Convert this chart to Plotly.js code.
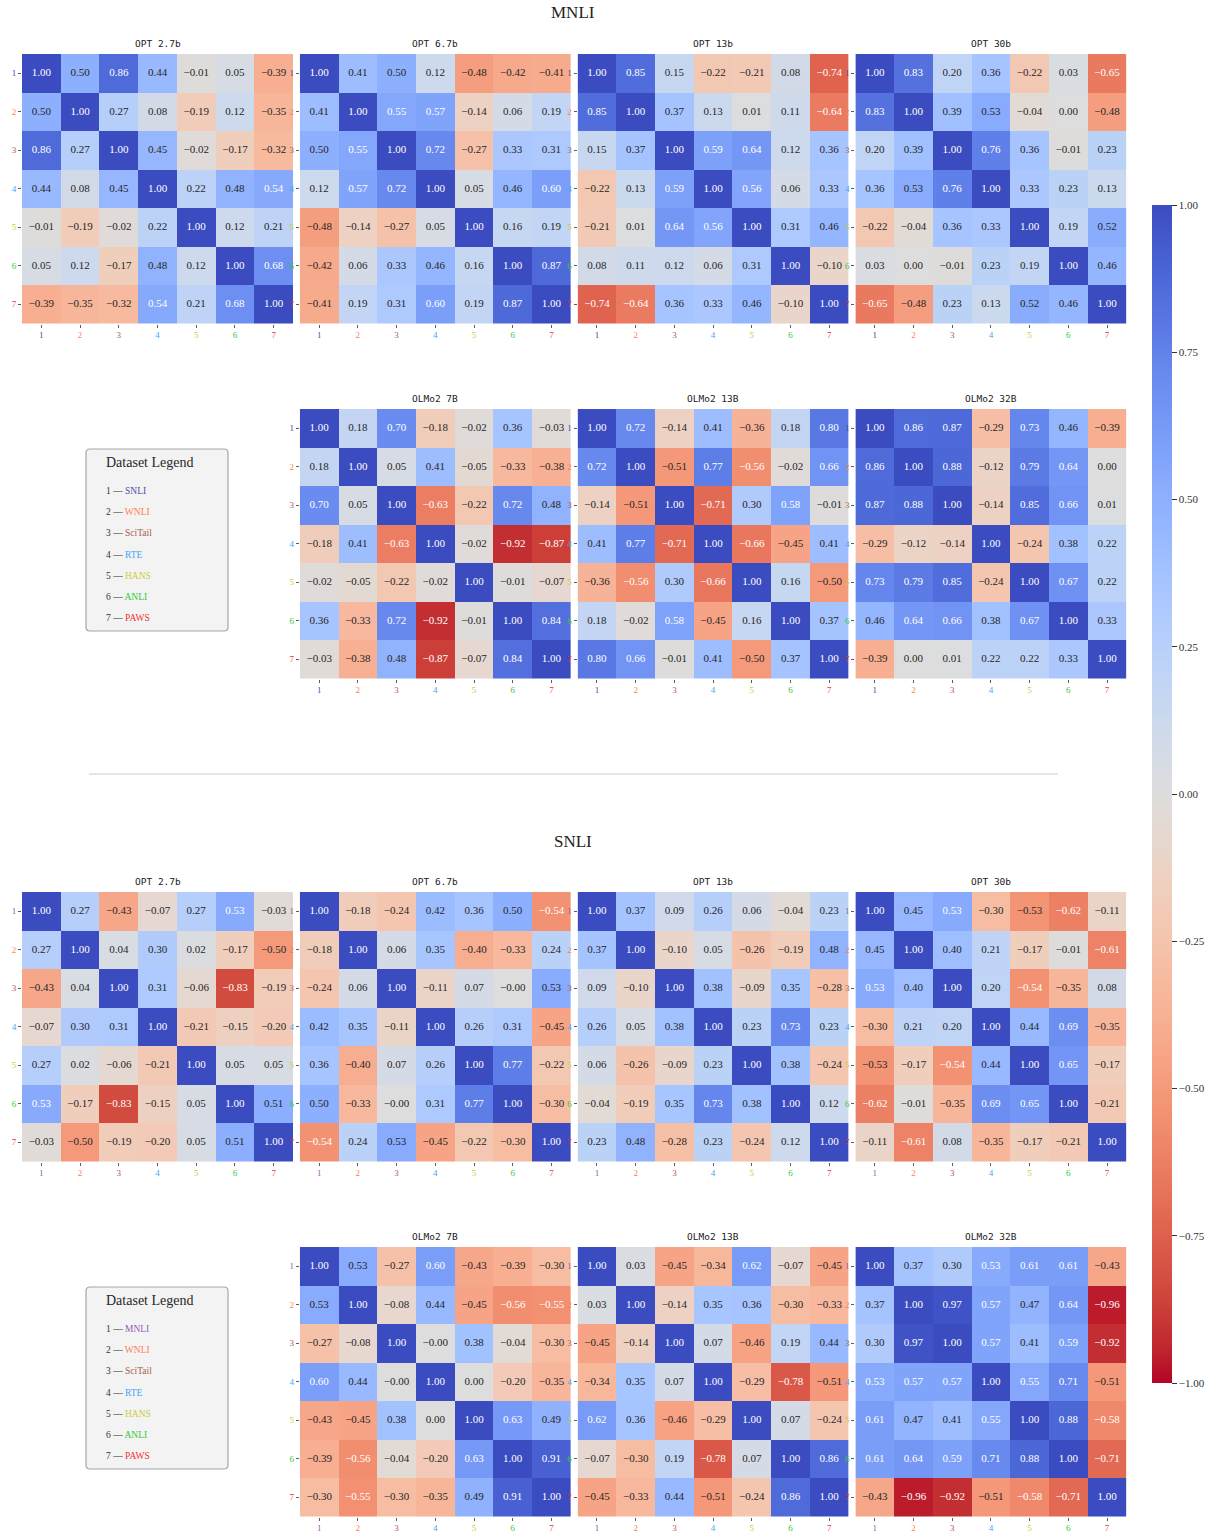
<!DOCTYPE html>
<html><head><meta charset="utf-8">
<script src="https://cdn.plot.ly/plotly-3.0.1.min.js"></script>
<style>body{margin:0;background:#fff}#chart{width:1217px;height:1533px}</style>
</head><body><div id="chart"></div>
<script>
// ---------------- DATA ----------------
const groupTitles = ['MNLI', 'SNLI'];
const panelTitles = ['OPT 2.7b', 'OPT 6.7b', 'OPT 13b', 'OPT 30b', 'OLMo2 7B', 'OLMo2 13B', 'OLMo2 32B'];
const tickLabels = ['1', '2', '3', '4', '5', '6', '7'];
const mnliDatasets = ['SNLI', 'WNLI', 'SciTail', 'RTE', 'HANS', 'ANLI', 'PAWS'];
const snliDatasets = ['MNLI', 'WNLI', 'SciTail', 'RTE', 'HANS', 'ANLI', 'PAWS'];
const mnliDatasetColors = ['#4b4bab', '#ff7f50', '#a8604f', '#3fa7f5', '#cccc33', '#33cc33', '#ee3333'];
const snliDatasetColors = ['#9b59b6', '#ff7f50', '#a8604f', '#3fa7f5', '#cccc33', '#33cc33', '#ee3333'];
const colorbarTicks = [-1, -0.75, -0.5, -0.25, 0, 0.25, 0.5, 0.75, 1];

const mnliOpt27b = [
  [1.00, 0.50, 0.86, 0.44, -0.01, 0.05, -0.39],
  [0.50, 1.00, 0.27, 0.08, -0.19, 0.12, -0.35],
  [0.86, 0.27, 1.00, 0.45, -0.02, -0.17, -0.32],
  [0.44, 0.08, 0.45, 1.00, 0.22, 0.48, 0.54],
  [-0.01, -0.19, -0.02, 0.22, 1.00, 0.12, 0.21],
  [0.05, 0.12, -0.17, 0.48, 0.12, 1.00, 0.68],
  [-0.39, -0.35, -0.32, 0.54, 0.21, 0.68, 1.00]];
const mnliOpt67b = [
  [1.00, 0.41, 0.50, 0.12, -0.48, -0.42, -0.41],
  [0.41, 1.00, 0.55, 0.57, -0.14, 0.06, 0.19],
  [0.50, 0.55, 1.00, 0.72, -0.27, 0.33, 0.31],
  [0.12, 0.57, 0.72, 1.00, 0.05, 0.46, 0.60],
  [-0.48, -0.14, -0.27, 0.05, 1.00, 0.16, 0.19],
  [-0.42, 0.06, 0.33, 0.46, 0.16, 1.00, 0.87],
  [-0.41, 0.19, 0.31, 0.60, 0.19, 0.87, 1.00]];
const mnliOpt13b = [
  [1.00, 0.85, 0.15, -0.22, -0.21, 0.08, -0.74],
  [0.85, 1.00, 0.37, 0.13, 0.01, 0.11, -0.64],
  [0.15, 0.37, 1.00, 0.59, 0.64, 0.12, 0.36],
  [-0.22, 0.13, 0.59, 1.00, 0.56, 0.06, 0.33],
  [-0.21, 0.01, 0.64, 0.56, 1.00, 0.31, 0.46],
  [0.08, 0.11, 0.12, 0.06, 0.31, 1.00, -0.10],
  [-0.74, -0.64, 0.36, 0.33, 0.46, -0.10, 1.00]];
const mnliOpt30b = [
  [1.00, 0.83, 0.20, 0.36, -0.22, 0.03, -0.65],
  [0.83, 1.00, 0.39, 0.527, -0.04, 0.00, -0.48],
  [0.20, 0.39, 1.00, 0.76, 0.36, -0.01, 0.23],
  [0.36, 0.527, 0.76, 1.00, 0.33, 0.23, 0.13],
  [-0.22, -0.04, 0.36, 0.33, 1.00, 0.19, 0.52],
  [0.03, 0.00, -0.01, 0.23, 0.19, 1.00, 0.46],
  [-0.65, -0.48, 0.23, 0.13, 0.52, 0.46, 1.00]];
const mnliOlmo7b = [
  [1.00, 0.18, 0.70, -0.18, -0.02, 0.36, -0.03],
  [0.18, 1.00, 0.05, 0.41, -0.05, -0.33, -0.38],
  [0.70, 0.05, 1.00, -0.63, -0.22, 0.72, 0.48],
  [-0.18, 0.41, -0.63, 1.00, -0.02, -0.92, -0.87],
  [-0.02, -0.05, -0.22, -0.02, 1.00, -0.01, -0.07],
  [0.36, -0.33, 0.72, -0.92, -0.01, 1.00, 0.84],
  [-0.03, -0.38, 0.48, -0.87, -0.07, 0.84, 1.00]];
const mnliOlmo13b = [
  [1.00, 0.72, -0.14, 0.41, -0.36, 0.18, 0.80],
  [0.72, 1.00, -0.51, 0.77, -0.56, -0.02, 0.66],
  [-0.14, -0.51, 1.00, -0.71, 0.30, 0.58, -0.01],
  [0.41, 0.77, -0.71, 1.00, -0.66, -0.45, 0.41],
  [-0.36, -0.56, 0.30, -0.66, 1.00, 0.16, -0.50],
  [0.18, -0.02, 0.58, -0.45, 0.16, 1.00, 0.37],
  [0.80, 0.66, -0.01, 0.41, -0.50, 0.37, 1.00]];
const mnliOlmo32b = [
  [1.00, 0.86, 0.87, -0.29, 0.73, 0.46, -0.39],
  [0.86, 1.00, 0.88, -0.12, 0.79, 0.64, 0.00],
  [0.87, 0.88, 1.00, -0.14, 0.85, 0.66, 0.01],
  [-0.29, -0.12, -0.14, 1.00, -0.24, 0.38, 0.22],
  [0.73, 0.79, 0.85, -0.24, 1.00, 0.67, 0.22],
  [0.46, 0.64, 0.66, 0.38, 0.67, 1.00, 0.33],
  [-0.39, 0.00, 0.01, 0.22, 0.22, 0.33, 1.00]];

const snliOpt27b = [
  [1.00, 0.27, -0.43, -0.07, 0.27, 0.533, -0.03],
  [0.27, 1.00, 0.04, 0.30, 0.02, -0.17, -0.50],
  [-0.43, 0.04, 1.00, 0.31, -0.06, -0.83, -0.19],
  [-0.07, 0.30, 0.31, 1.00, -0.21, -0.15, -0.20],
  [0.27, 0.02, -0.06, -0.21, 1.00, 0.05, 0.05],
  [0.533, -0.17, -0.83, -0.15, 0.05, 1.00, 0.51],
  [-0.03, -0.50, -0.19, -0.20, 0.05, 0.51, 1.00]];
const snliOpt67b = [
  [1.00, -0.18, -0.24, 0.42, 0.36, 0.50, -0.54],
  [-0.18, 1.00, 0.06, 0.35, -0.40, -0.33, 0.24],
  [-0.24, 0.06, 1.00, -0.11, 0.07, -0.001, 0.527],
  [0.42, 0.35, -0.11, 1.00, 0.26, 0.31, -0.45],
  [0.36, -0.40, 0.07, 0.26, 1.00, 0.77, -0.22],
  [0.50, -0.33, -0.001, 0.31, 0.77, 1.00, -0.30],
  [-0.54, 0.24, 0.527, -0.45, -0.22, -0.30, 1.00]];
const snliOpt13b = [
  [1.00, 0.37, 0.09, 0.26, 0.06, -0.04, 0.23],
  [0.37, 1.00, -0.10, 0.05, -0.26, -0.19, 0.48],
  [0.09, -0.10, 1.00, 0.38, -0.09, 0.35, -0.28],
  [0.26, 0.05, 0.38, 1.00, 0.23, 0.73, 0.23],
  [0.06, -0.26, -0.09, 0.23, 1.00, 0.38, -0.24],
  [-0.04, -0.19, 0.35, 0.73, 0.38, 1.00, 0.12],
  [0.23, 0.48, -0.28, 0.23, -0.24, 0.12, 1.00]];
const snliOpt30b = [
  [1.00, 0.45, 0.533, -0.30, -0.53, -0.62, -0.11],
  [0.45, 1.00, 0.40, 0.21, -0.17, -0.01, -0.61],
  [0.533, 0.40, 1.00, 0.20, -0.54, -0.35, 0.08],
  [-0.30, 0.21, 0.20, 1.00, 0.44, 0.69, -0.35],
  [-0.53, -0.17, -0.54, 0.44, 1.00, 0.65, -0.17],
  [-0.62, -0.01, -0.35, 0.69, 0.65, 1.00, -0.21],
  [-0.11, -0.61, 0.08, -0.35, -0.17, -0.21, 1.00]];
const snliOlmo7b = [
  [1.00, 0.527, -0.27, 0.60, -0.43, -0.39, -0.30],
  [0.527, 1.00, -0.08, 0.44, -0.45, -0.56, -0.55],
  [-0.27, -0.08, 1.00, -0.001, 0.38, -0.04, -0.30],
  [0.60, 0.44, -0.001, 1.00, 0.00, -0.20, -0.35],
  [-0.43, -0.45, 0.38, 0.00, 1.00, 0.63, 0.49],
  [-0.39, -0.56, -0.04, -0.20, 0.63, 1.00, 0.91],
  [-0.30, -0.55, -0.30, -0.35, 0.49, 0.91, 1.00]];
const snliOlmo13b = [
  [1.00, 0.03, -0.45, -0.34, 0.62, -0.07, -0.45],
  [0.03, 1.00, -0.14, 0.35, 0.36, -0.30, -0.33],
  [-0.45, -0.14, 1.00, 0.07, -0.46, 0.19, 0.44],
  [-0.34, 0.35, 0.07, 1.00, -0.29, -0.78, -0.51],
  [0.62, 0.36, -0.46, -0.29, 1.00, 0.07, -0.24],
  [-0.07, -0.30, 0.19, -0.78, 0.07, 1.00, 0.86],
  [-0.45, -0.33, 0.44, -0.51, -0.24, 0.86, 1.00]];
const snliOlmo32b = [
  [1.00, 0.37, 0.30, 0.533, 0.61, 0.61, -0.43],
  [0.37, 1.00, 0.97, 0.57, 0.47, 0.64, -0.96],
  [0.30, 0.97, 1.00, 0.57, 0.41, 0.59, -0.92],
  [0.533, 0.57, 0.57, 1.00, 0.55, 0.71, -0.51],
  [0.61, 0.47, 0.41, 0.55, 1.00, 0.88, -0.58],
  [0.61, 0.64, 0.59, 0.71, 0.88, 1.00, -0.71],
  [-0.43, -0.96, -0.92, -0.51, -0.58, -0.71, 1.00]];

// ---------------- STYLE / LAYOUT ----------------
const W = 1217, H = 1533;
const SERIF = 'Liberation Serif, DejaVu Serif, serif';
const MONO = 'DejaVu Sans Mono, Liberation Mono, monospace';
// coolwarm (Moreland) table, from blue to red
const coolwarm = [[59,76,192],[68,90,204],[77,104,215],[87,117,225],[98,130,234],[108,142,241],[119,154,247],[130,165,251],[141,176,254],[152,185,255],[163,194,255],[174,201,253],[184,208,249],[194,213,244],[204,217,238],[213,219,230],[221,221,221],[229,216,209],[236,211,197],[241,204,185],[245,196,173],[247,187,160],[247,177,148],[247,166,135],[244,154,123],[241,141,111],[236,127,99],[229,112,88],[222,96,77],[213,80,66],[203,62,56],[192,40,47],[180,4,38]];
// reversed: z=-1 (red) -> z=+1 (blue)
const colorscale = coolwarm.slice().reverse().map((c, i, a) => [i / (a.length - 1), `rgb(${c[0]},${c[1]},${c[2]})`]);

const px2x = p => p / W;
const px2y = p => 1 - p / H;
const colLeft = [22, 299.8, 577.6, 855.4];
const colW = 271;
const rowTop = [54, 409, 892, 1247];
const rowH = 269.5;

const fmt = v => (v < 0 ? '\u2212' : '') + Math.abs(v).toFixed(2);
const txtColor = v => (v >= 0.53 || v <= -0.535) ? '#ffffff' : '#262626';

const panels = [
  {z: mnliOpt27b, t: panelTitles[0], row: 0, col: 0, g: 0},
  {z: mnliOpt67b, t: panelTitles[1], row: 0, col: 1, g: 0},
  {z: mnliOpt13b, t: panelTitles[2], row: 0, col: 2, g: 0},
  {z: mnliOpt30b, t: panelTitles[3], row: 0, col: 3, g: 0},
  {z: mnliOlmo7b, t: panelTitles[4], row: 1, col: 1, g: 0},
  {z: mnliOlmo13b, t: panelTitles[5], row: 1, col: 2, g: 0},
  {z: mnliOlmo32b, t: panelTitles[6], row: 1, col: 3, g: 0},
  {z: snliOpt27b, t: panelTitles[0], row: 2, col: 0, g: 1},
  {z: snliOpt67b, t: panelTitles[1], row: 2, col: 1, g: 1},
  {z: snliOpt13b, t: panelTitles[2], row: 2, col: 2, g: 1},
  {z: snliOpt30b, t: panelTitles[3], row: 2, col: 3, g: 1},
  {z: snliOlmo7b, t: panelTitles[4], row: 3, col: 1, g: 1},
  {z: snliOlmo13b, t: panelTitles[5], row: 3, col: 2, g: 1},
  {z: snliOlmo32b, t: panelTitles[6], row: 3, col: 3, g: 1}
];

const data = [];
const layout = {
  width: W, height: H,
  margin: {l: 0, r: 0, t: 0, b: 0},
  paper_bgcolor: '#ffffff', plot_bgcolor: '#ffffff',
  showlegend: false,
  font: {family: SERIF, color: '#262626'},
  annotations: [], shapes: []
};

panels.forEach((p, i) => {
  const n = i + 1;
  const xa = 'x' + (n === 1 ? '' : n), ya = 'y' + (n === 1 ? '' : n);
  const cols = p.g === 0 ? mnliDatasetColors : snliDatasetColors;
  const ticktext = tickLabels.map((t, k) => `<span style="color:${cols[k]}">${t}</span>`);
  const x0 = colLeft[p.col], y0 = rowTop[p.row];
  const axCommon = {
    type: 'category', showgrid: false, zeroline: false, showline: false,
    ticks: 'outside', ticklen: 3, tickwidth: 0.8, tickcolor: '#333',
    tickvals: tickLabels, ticktext: ticktext,
    tickfont: {family: SERIF, size: 9}, fixedrange: true
  };
  layout['xaxis' + (n === 1 ? '' : n)] = Object.assign({}, axCommon, {
    domain: [px2x(x0), px2x(x0 + colW)], anchor: ya, range: [-0.5, 6.5]
  });
  layout['yaxis' + (n === 1 ? '' : n)] = Object.assign({}, axCommon, {
    domain: [px2y(y0 + rowH), px2y(y0)], anchor: xa, range: [6.5, -0.5]
  });
  const hm = {
    type: 'heatmap', z: p.z, x: tickLabels, y: tickLabels, xaxis: xa, yaxis: ya,
    zmin: -1, zmax: 1, colorscale: colorscale, showscale: i === 0, hoverinfo: 'skip'
  };
  if (i === 0) {
    hm.colorbar = {
      x: px2x(1152), xanchor: 'left', xref: 'paper',
      y: px2y(794), yanchor: 'middle', yref: 'paper',
      len: 1178, lenmode: 'pixels', thickness: 20, thicknessmode: 'pixels',
      outlinewidth: 0, xpad: 0, ypad: 0,
      tickvals: colorbarTicks, ticktext: colorbarTicks.map(fmt),
      ticks: 'outside', ticklen: 5, tickcolor: '#333',
      tickfont: {family: SERIF, size: 11, color: '#333'}
    };
  }
  data.push(hm);
  const tx = [], ty = [], tt = [], tc = [];
  p.z.forEach((row, r) => row.forEach((v, c) => {
    tx.push(tickLabels[c]); ty.push(tickLabels[r]); tt.push(fmt(v)); tc.push(txtColor(v));
  }));
  data.push({
    type: 'scatter', mode: 'text', x: tx, y: ty, text: tt, xaxis: xa, yaxis: ya,
    textposition: 'middle center', textfont: {family: SERIF, size: 11, color: tc},
    hoverinfo: 'skip', showlegend: false
  });
  layout.annotations.push({
    xref: 'paper', yref: 'paper', x: px2x(x0 + colW / 2), y: px2y(y0 - 3),
    xanchor: 'center', yanchor: 'bottom', showarrow: false, text: p.t,
    font: {family: MONO, size: 9.5, color: '#222'}
  });
});

// group titles
[[groupTitles[0], 12], [groupTitles[1], 841]].forEach(([t, yy]) => {
  layout.annotations.push({
    xref: 'paper', yref: 'paper', x: px2x(573), y: px2y(yy), xanchor: 'center', yanchor: 'middle',
    showarrow: false, text: t, font: {family: SERIF, size: 17, color: '#222'}
  });
});

// separator
layout.shapes.push({
  type: 'line', xref: 'paper', yref: 'paper', x0: px2x(89), x1: px2x(1058), y0: px2y(774), y1: px2y(774),
  line: {color: '#dcdcdc', width: 1.5}
});

// legends
function roundRect(l, t, r, b, rad) {
  const X = px2x, Y = px2y;
  return `M ${X(l + rad)} ${Y(t)} L ${X(r - rad)} ${Y(t)} Q ${X(r)} ${Y(t)} ${X(r)} ${Y(t + rad)} ` +
    `L ${X(r)} ${Y(b - rad)} Q ${X(r)} ${Y(b)} ${X(r - rad)} ${Y(b)} L ${X(l + rad)} ${Y(b)} ` +
    `Q ${X(l)} ${Y(b)} ${X(l)} ${Y(b - rad)} L ${X(l)} ${Y(t + rad)} Q ${X(l)} ${Y(t)} ${X(l + rad)} ${Y(t)} Z`;
}
[[mnliDatasets, mnliDatasetColors, 449], [snliDatasets, snliDatasetColors, 1287]].forEach(([names, cols, top]) => {
  layout.shapes.push({
    type: 'path', xref: 'paper', yref: 'paper', path: roundRect(86, top, 228, top + 182, 4),
    fillcolor: '#f3f3f3', line: {color: '#a6a6a6', width: 1.2}, layer: 'below'
  });
  layout.annotations.push({
    xref: 'paper', yref: 'paper', x: px2x(104), y: px2y(top + 13), xanchor: 'left', yanchor: 'middle',
    showarrow: false, text: 'Dataset Legend', font: {family: SERIF, size: 14, color: '#262626'}
  });
  names.forEach((nm, k) => {
    layout.annotations.push({
      xref: 'paper', yref: 'paper', x: px2x(104), y: px2y(top + 42 + k * 21.2), xanchor: 'left', yanchor: 'middle',
      showarrow: false, text: `${tickLabels[k]} \u2014 <span style="color:${cols[k]}">${nm}</span>`,
      font: {family: SERIF, size: 9.5, color: '#333'}
    });
  });
});

Plotly.newPlot('chart', data, layout, {displayModeBar: false, staticPlot: true});
</script>
</body></html>
